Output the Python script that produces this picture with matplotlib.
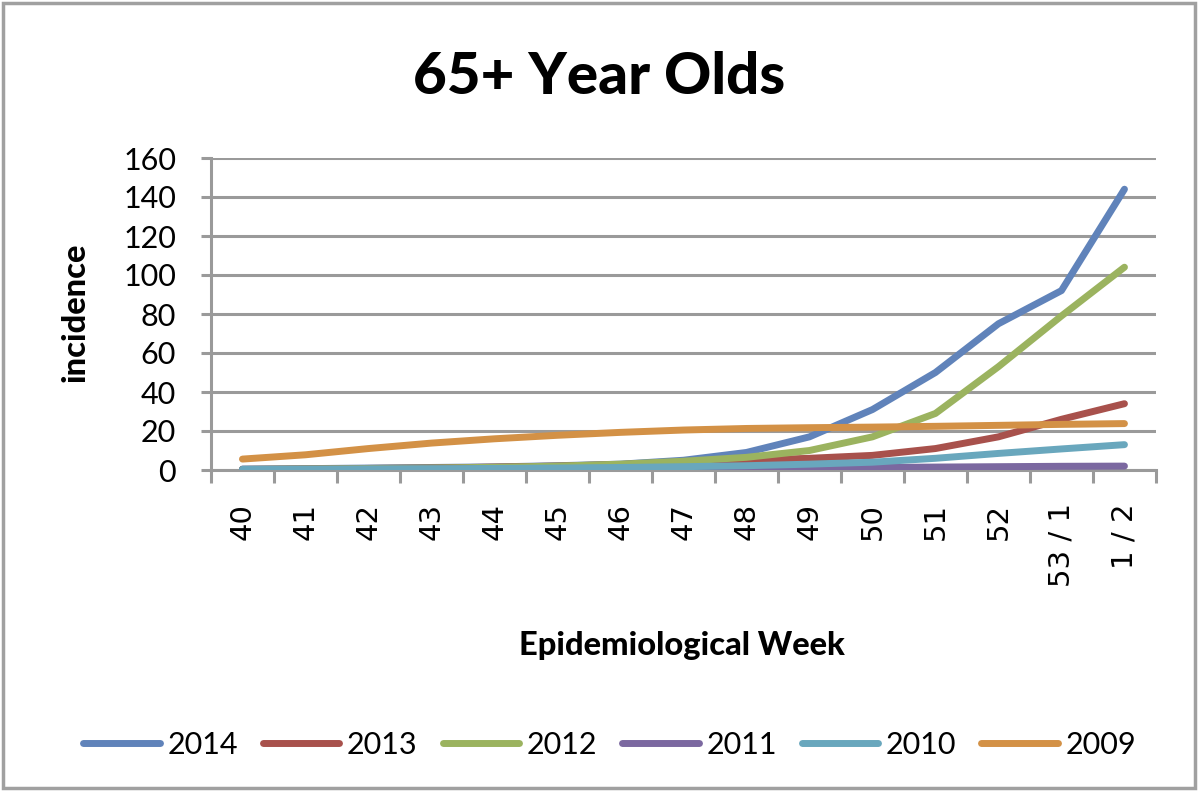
import matplotlib
matplotlib.use("Agg")
import numpy as np
import matplotlib.pyplot as plt
from matplotlib.patches import Rectangle

weeks = ["40", "41", "42", "43", "44", "45", "46", "47", "48", "49",
         "50", "51", "52", "53 / 1", "1 / 2"]

y2014 = [0.5, 0.7, 1.0, 1.3, 1.6, 2.2, 3.0, 5.0, 9.0, 17.0, 31.0, 50.0, 75.0, 92.0, 144.0]
y2013 = [0.3, 0.5, 0.8, 1.0, 1.5, 2.0, 2.8, 4.0, 5.0, 6.0, 7.5, 11.0, 17.0, 26.0, 34.0]
y2012 = [0.3, 0.5, 0.8, 1.0, 1.4, 2.0, 3.0, 4.5, 6.5, 10.0, 17.0, 29.0, 53.0, 79.0, 104.0]
y2011 = [0.2, 0.3, 0.4, 0.5, 0.6, 0.7, 0.8, 0.9, 1.0, 1.1, 1.3, 1.5, 1.7, 1.9, 2.0]
y2010 = [0.3, 0.4, 0.5, 0.6, 0.8, 1.0, 1.3, 1.7, 2.2, 3.0, 4.0, 6.0, 8.5, 10.8, 13.0]
y2009 = [5.6, 7.8, 11.0, 13.8, 16.0, 17.8, 19.3, 20.5, 21.3, 21.7, 22.0, 22.4, 22.9, 23.4, 23.8]

series = [("2014", y2014, "#6083BA"),
          ("2013", y2013, "#A8514C"),
          ("2012", y2012, "#9BB35F"),
          ("2011", y2011, "#7B68A0"),
          ("2010", y2010, "#69A7BD"),
          ("2009", y2009, "#D39146")]

grey = "#9a9a9a"
label_font = "Lato"

fig = plt.figure(figsize=(12, 8), dpi=100)
ax = fig.add_axes([0.1758, 0.4125, 0.7875, 0.39])

x = np.arange(len(weeks))
for name, vals, col in series:
    ax.plot(x, vals, color=col, lw=5, solid_capstyle="round",
            solid_joinstyle="round", label=name, zorder=3)

ax.set_xlim(-0.5, len(weeks) - 0.5)
ax.set_ylim(0, 160)
ax.set_yticks(np.arange(0, 161, 20))
ax.grid(axis="y", color=grey, lw=2.2)
ax.set_axisbelow(True)

for s in ["top", "right"]:
    ax.spines[s].set_visible(False)
for s in ["left", "bottom"]:
    ax.spines[s].set_color(grey)
    ax.spines[s].set_linewidth(2.2)

ax.set_xticks(x)
ax.set_xticklabels(weeks, rotation=90, fontsize=21, family="DejaVu Sans",
                   va="top", ha="center")
ax.set_xticks(np.arange(-0.5, len(weeks)), minor=True)
ax.tick_params(axis="x", which="major", length=0, pad=24)
ax.tick_params(axis="x", which="minor", length=9, width=2.2, color=grey)
ax.tick_params(axis="y", length=7, width=2.2, color=grey, pad=18,
               labelsize=22)
for lab in ax.get_yticklabels():
    lab.set_family(label_font)

fig.text(0.499, 0.9025, "65+ Year Olds", ha="center", va="center",
         fontsize=42, fontweight="black", family=label_font)
fig.text(0.568, 1 - 645 / 800, "Epidemiological Week", ha="center",
         va="center", fontsize=23.5, fontweight="black", family=label_font)
fig.text(75 / 1200, 1 - 312 / 800, "incidence", ha="center", va="center",
         rotation=90, fontsize=23.5, fontweight="black", family=label_font)

leg = fig.legend(loc="center", bbox_to_anchor=(0.508, 1 - 745 / 800),
                 ncol=6, frameon=False, handlelength=2.5,
                 handletextpad=0.25, columnspacing=0.82,
                 prop={"family": label_font, "size": 22})
for h in leg.get_lines():
    h.set_linewidth(5)
    h.set_solid_capstyle("round")

fig.patches.append(Rectangle((3 / 1200, 12 / 800), 1192 / 1200, 785 / 800,
                             transform=fig.transFigure, fill=False,
                             edgecolor="#a0a0a0", lw=2.5))

fig.savefig("out.png", dpi=100)
